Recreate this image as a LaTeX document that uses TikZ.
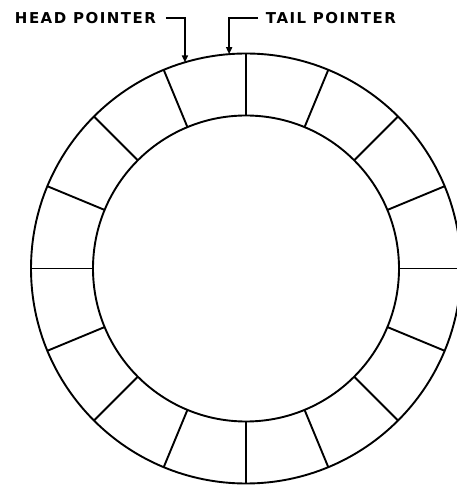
\documentclass[tikz,border=0pt]{standalone}
\usepackage{fontspec}
\setmainfont{DejaVu Sans}
\usetikzlibrary{arrows.meta}
\begin{document}
\begin{tikzpicture}[x=1pt,y=1pt,line width=1.9pt,
  lbl/.style={font=\bfseries\fontsize{15}{16}\selectfont\addfontfeature{LetterSpace=10}, inner sep=0pt, anchor=west},
  ptr/.style={-{Triangle[length=7pt,width=6pt]}, line width=1.6pt}]
\useasboundingbox (0,0) rectangle (456,485);
\coordinate (c) at (246,216.5);
\draw (c) circle (215);
\draw (c) circle (153);
\foreach \a in {0,22.5,...,337.5}
  \draw ([shift={(\a:153)}]c) -- ([shift={(\a:215)}]c);
\node[lbl] (head) at (14,467) {HEAD POINTER};
\node[lbl] (tail) at (265,467) {TAIL POINTER};
\coordinate (htip) at ([shift={(106.5:215)}]c);
\coordinate (ttip) at ([shift={(94.5:215)}]c);
\draw[ptr] ([xshift=9pt]head.east) -| (htip);
\draw[ptr] ([xshift=-7pt]tail.west) -| (ttip);
\end{tikzpicture}
\end{document}
